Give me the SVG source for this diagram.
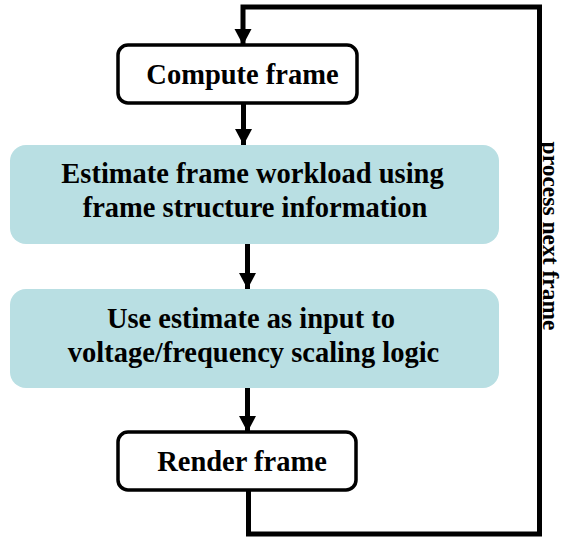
<svg xmlns="http://www.w3.org/2000/svg" width="564" height="539" viewBox="0 0 564 539">
  <defs>
    <marker id="arrow" markerUnits="userSpaceOnUse" markerWidth="17" markerHeight="18" refX="16" refY="8.5" orient="auto" overflow="visible">
      <path d="M0,0 L16,8.5 L0,17 Z" fill="#000"/>
    </marker>
    <style>
      .box { fill: #fff; stroke: #000; stroke-width: 3.5; }
      .step { fill: #b9dfe3; stroke: none; }
      .wire { fill: none; stroke: #000; stroke-width: 5; }
    </style>
  </defs>
  <rect width="564" height="539" fill="#fff"/>

  <g id="connectors">
    <!-- feedback loop: render frame back to compute frame -->
    <path class="wire" d="M248.5,490 V534 H539.5 V7 H243 V45" marker-end="url(#arrow)"/>
    <path class="wire" d="M243.5,103 V145" marker-end="url(#arrow)"/>
    <path class="wire" d="M247.5,244 V289" marker-end="url(#arrow)"/>
    <path class="wire" d="M247.5,388 V432" marker-end="url(#arrow)"/>
  </g>

  <g font-family="Liberation Serif, Times New Roman, serif" font-weight="bold" font-size="28.5" fill="#000" text-anchor="middle">
    <g id="compute">
      <rect class="box" x="118" y="45" width="239" height="58" rx="10"/>
      <text x="242.5" y="84">Compute frame</text>
    </g>

    <g id="estimate">
      <rect class="step" x="10" y="145" width="489" height="99" rx="16"/>
      <text x="252.5" y="183">Estimate frame workload using</text>
      <text x="255" y="217">frame structure information</text>
    </g>

    <g id="scaling">
      <rect class="step" x="10" y="289" width="489" height="99" rx="16"/>
      <text x="251" y="328">Use estimate as input to</text>
      <text x="253.5" y="362">voltage/frequency scaling logic</text>
    </g>

    <g id="render">
      <rect class="box" x="118" y="432" width="238" height="58" rx="10"/>
      <text x="242" y="471">Render frame</text>
    </g>

    <g id="loop-label">
      <text font-size="23.5" transform="translate(543,236) rotate(90)">process next frame</text>
    </g>
  </g>
</svg>
